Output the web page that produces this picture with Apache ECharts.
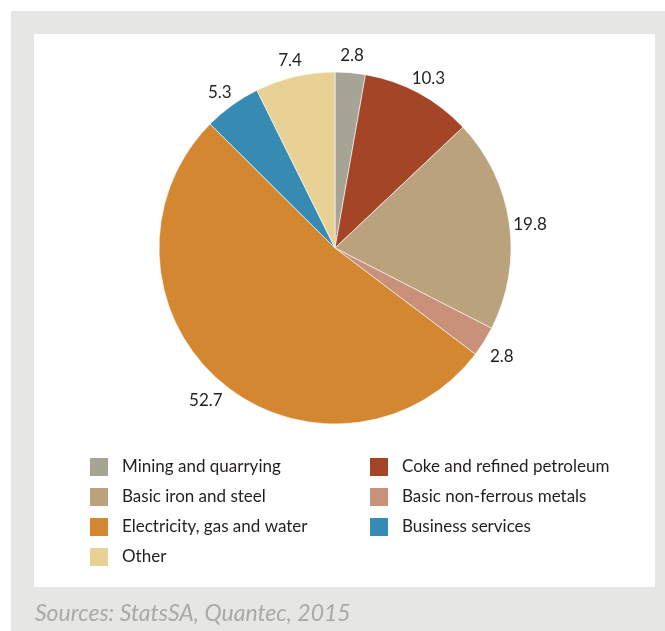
<!DOCTYPE html>
<html>
<head>
<meta charset="utf-8">
<script src="https://cdn.jsdelivr.net/npm/echarts@6/dist/echarts.min.js"></script>
<style>
  html, body { margin: 0; padding: 0; background: #ffffff; }
  #chart { width: 665px; height: 631px; }
</style>
</head>
<body>
<div id="chart"></div>
<script>
// Sectors, in clockwise order from twelve o'clock
const sectors = [
  'Mining and quarrying',
  'Coke and refined petroleum',
  'Basic iron and steel',
  'Basic non-ferrous metals',
  'Electricity, gas and water',
  'Business services',
  'Other'
];
const shares = [2.8, 10.3, 19.8, 2.8, 52.7, 5.3, 7.4];
const sectorColors = ['#a6a397', '#a44528', '#b9a27c', '#c9917a', '#d38731', '#378bb3', '#e8d194'];

// Legend columns
const legendLeft = ['Mining and quarrying', 'Basic iron and steel', 'Electricity, gas and water', 'Other'];
const legendRight = ['Coke and refined petroleum', 'Basic non-ferrous metals', 'Business services'];

const sourceNote = 'Sources: StatsSA, Quantec, 2015';

const FONT = 'Lato';
const pieData = sectors.map((name, i) => ({
  name: name,
  value: shares[i],
  itemStyle: { color: sectorColors[i] }
}));

const chart = echarts.init(document.getElementById('chart'), null, { renderer: 'canvas' });

const legendCommon = {
  orient: 'vertical',
  top: 451,
  itemWidth: 20,
  itemHeight: 20,
  itemGap: 8,
  icon: 'rect',
  selectedMode: false,
  textStyle: {
    fontFamily: FONT,
    fontSize: 17,
    lineHeight: 20,
    color: '#231f20',
    padding: [0, 0, 0, 8]
  }
};

chart.setOption({
  backgroundColor: '#ffffff',
  animation: false,
  graphic: [
    {
      type: 'rect', z: -10, silent: true,
      shape: { x: 11, y: 11, width: 654, height: 620 },
      style: { fill: '#e6e6e4' }
    },
    {
      type: 'rect', z: -9, silent: true,
      shape: { x: 34, y: 34, width: 621, height: 553 },
      style: { fill: '#ffffff' }
    },
    {
      type: 'text', z: 5, silent: true,
      left: 35, top: 602,
      style: {
        text: sourceNote,
        fontFamily: FONT,
        fontStyle: 'italic',
        fontSize: 23,
        fill: '#a9a9a5'
      }
    }
  ],
  legend: [
    Object.assign({}, legendCommon, { left: 83, data: legendLeft }),
    Object.assign({}, legendCommon, { left: 363, data: legendRight })
  ],
  series: [
    {
      type: 'pie',
      center: [335, 248],
      radius: [0, 176],
      startAngle: 90,
      clockwise: true,
      silent: true,
      data: pieData,
      itemStyle: { borderColor: '#ffffff', borderWidth: 0.6 },
      label: { show: false },
      labelLine: { show: false }
    },
    {
      // transparent ring that only carries the value labels just outside the pie
      type: 'pie',
      center: [335, 248],
      radius: [180, 208],
      startAngle: 90,
      clockwise: true,
      silent: true,
      legendHoverLink: false,
      data: sectors.map((name, i) => ({ name: name, value: shares[i] })),
      itemStyle: { color: 'rgba(0,0,0,0)', borderWidth: 0 },
      label: {
        show: true,
        position: 'inside',
        offset: [0, 4],
        formatter: p => p.value.toFixed(1),
        fontFamily: FONT,
        fontSize: 17,
        color: '#231f20'
      },
      labelLine: { show: false }
    }
  ]
});
</script>
</body>
</html>
